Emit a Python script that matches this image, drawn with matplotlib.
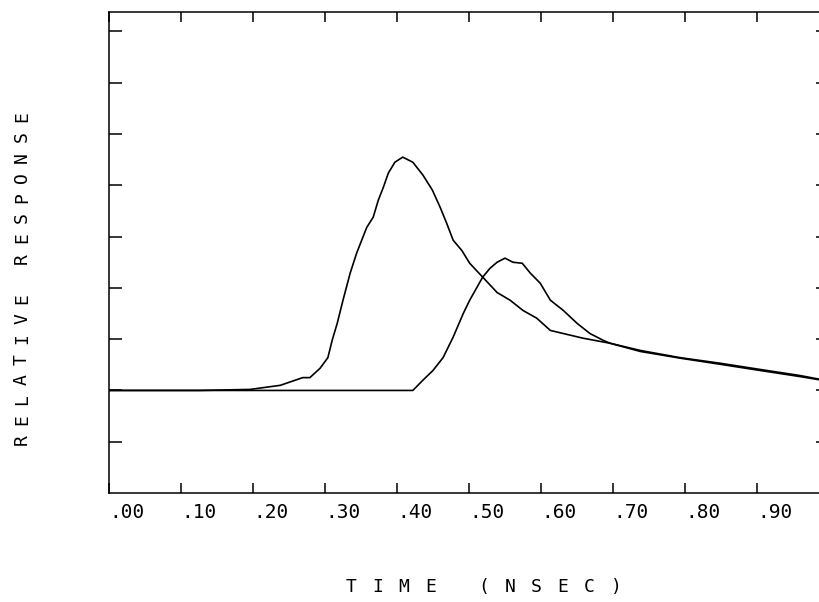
import numpy as np
import matplotlib
matplotlib.use('Agg')
from matplotlib import pyplot as plt

# time axis in nsec, response in arbitrary units (one y tick = 1)
time_early = [0.000, 0.126, 0.196, 0.238, 0.269, 0.279, 0.293, 0.304, 0.310, 0.317,
              0.325, 0.335, 0.344, 0.358, 0.367, 0.374, 0.381, 0.388, 0.397, 0.408,
              0.422, 0.436, 0.449, 0.460, 0.469, 0.478, 0.490, 0.501, 0.519, 0.539,
              0.557, 0.575, 0.594, 0.613, 0.631, 0.658, 0.696, 0.738, 0.793, 0.849,
              0.904, 0.960, 0.990]
resp_early = [0.00, 0.00, 0.02, 0.10, 0.25, 0.25, 0.43, 0.64, 0.98, 1.31,
              1.76, 2.29, 2.68, 3.18, 3.38, 3.71, 3.96, 4.24, 4.45, 4.55,
              4.45, 4.20, 3.91, 3.57, 3.26, 2.93, 2.73, 2.48, 2.21, 1.91,
              1.76, 1.56, 1.41, 1.17, 1.11, 1.02, 0.92, 0.78, 0.64, 0.53,
              0.41, 0.29, 0.21]

time_late = [0.000, 0.196, 0.422, 0.436, 0.450, 0.464, 0.478, 0.492, 0.501, 0.511,
             0.519, 0.529, 0.539, 0.550, 0.561, 0.574, 0.585, 0.599, 0.613, 0.631,
             0.650, 0.668, 0.686, 0.696, 0.738, 0.793, 0.849, 0.904, 0.960, 0.990]
resp_late = [0.00, 0.00, 0.00, 0.20, 0.39, 0.64, 1.04, 1.50, 1.76, 2.01,
             2.21, 2.38, 2.50, 2.58, 2.50, 2.48, 2.29, 2.09, 1.76, 1.56,
             1.31, 1.11, 0.98, 0.92, 0.76, 0.63, 0.51, 0.39, 0.27, 0.20]

x_ticks = [0.0, 0.1, 0.2, 0.3, 0.4, 0.5, 0.6, 0.7, 0.8, 0.9, 1.0]
x_tick_labels = ['.00', '.10', '.20', '.30', '.40', '.50', '.60', '.70', '.80', '.90', '']
y_ticks = [-1, 0, 1, 2, 3, 4, 5, 6, 7]

W, H = 819, 602
FONT = 'DejaVu Sans Mono'


def spaced_text(fig, text, x0, y0, dx, dy, **kw):
    # plotter style lettering: every character on its own fixed pitch (pixels)
    for i, ch in enumerate(text):
        if ch == ' ':
            continue
        fig.text((x0 + i * dx) / W, 1 - (y0 + i * dy) / H, ch,
                 ha='center', va='center', family=FONT, **kw)


fig = plt.figure(figsize=(W / 100, H / 100), dpi=100)
ax = fig.add_axes([109 / W, (H - 493) / H, 720 / W, 481 / H])

ax.plot(time_early, resp_early, color='black', linewidth=1.2)
ax.plot(time_late, resp_late, color='black', linewidth=1.2)

ax.set_xlim(0, 1.0)
ax.set_ylim(-2.0, 7.38)
ax.set_xticks(x_ticks)
ax.set_xticklabels(x_tick_labels, family=FONT, fontsize=14, ha='left')
ax.set_yticks(y_ticks)
ax.set_yticklabels([])
ax.tick_params(axis='x', direction='in', length=7.2, width=1.1, top=True, pad=7)
ax.tick_params(axis='y', direction='in', length=9.4, width=1.1, right=True)
for sp in ax.spines.values():
    sp.set_linewidth(1.1)

spaced_text(fig, 'TIME (NSEC)', 351, 587, 26.5, 0, fontsize=13)
spaced_text(fig, 'RELATIVE RESPONSE', 22, 440, 0, -20.2, fontsize=13, rotation=90)

fig.savefig('out.png', dpi=100)
